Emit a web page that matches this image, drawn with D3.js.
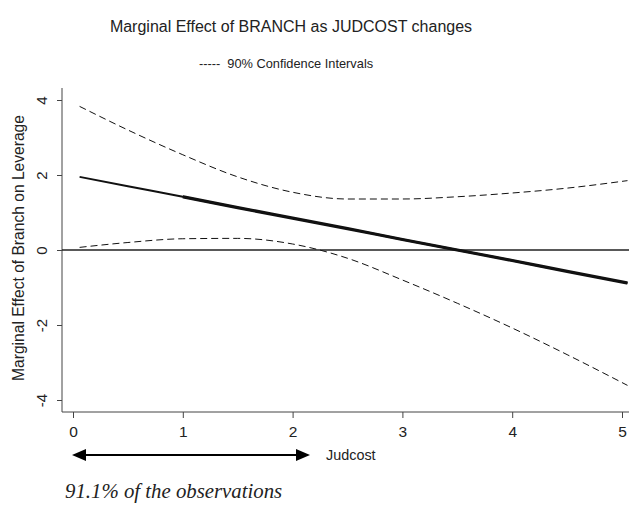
<!DOCTYPE html>
<html>
<head>
<meta charset="utf-8">
<script src="https://cdn.jsdelivr.net/npm/d3@7"></script>
<style>
  body { margin: 0; background: #fff; }
  svg { display: block; font-family: "Liberation Sans", Arial, sans-serif; }
  text { fill: #222; }
</style>
</head>
<body>
<svg id="chart"></svg>
<script>
// values
const judcost = [0.06, 0.5, 1.0, 1.5, 2.0, 2.5, 3.0, 3.5, 4.0, 4.5, 5.05];
const marginalEffect = [1.95, 1.70, 1.42, 1.13, 0.85, 0.57, 0.28, 0.00, -0.28, -0.57, -0.88];
const upperCI = [3.83, 3.20, 2.54, 1.95, 1.54, 1.36, 1.36, 1.42, 1.52, 1.65, 1.85];
const lowerCI = [0.07, 0.20, 0.30, 0.31, 0.16, -0.22, -0.80, -1.42, -2.08, -2.79, -3.61];
const xTicks = [0, 1, 2, 3, 4, 5];
const yTicks = [-4, -2, 0, 2, 4];

const width = 629, height = 510;
const svg = d3.select('#chart').attr('width', width).attr('height', height);

const x = d3.scaleLinear().domain([0, 5]).range([73, 622]);
const y = d3.scaleLinear().domain([-4, 4]).range([400, 100]);

const axisLeft = 62, axisBottom = 412;
const sans = '"Liberation Sans", Arial, sans-serif';
// plain hyphen for negatives, like the original
const fmt = d => String(d);

// title + legend
svg.append('text')
  .attr('x', 291).attr('y', 32)
  .attr('text-anchor', 'middle')
  .attr('font-size', '16px')
  .text('Marginal Effect of BRANCH as JUDCOST changes');

svg.append('text')
  .attr('x', 286).attr('y', 68)
  .attr('text-anchor', 'middle')
  .attr('font-size', '12.8px')
  .attr('xml:space', 'preserve')
  .text('-----  90% Confidence Intervals');

// axes
const yAxis = svg.append('g')
  .attr('transform', `translate(${axisLeft},0)`)
  .call(d3.axisLeft(y).tickValues(yTicks).tickSize(5).tickSizeOuter(0).tickFormat(fmt));
yAxis.select('.domain').attr('d', `M0,88V${axisBottom}`);
yAxis.selectAll('text')
  .attr('transform', 'rotate(-90)')
  .attr('x', 0).attr('y', -20)
  .attr('dy', '0.35em')
  .attr('text-anchor', 'middle')
  .attr('font-size', '15px')
  .attr('font-family', sans)
  .attr('fill', '#222');

const xAxis = svg.append('g')
  .attr('transform', `translate(0,${axisBottom})`)
  .call(d3.axisBottom(x).tickValues(xTicks).tickSize(6).tickSizeOuter(0).tickFormat(fmt));
xAxis.select('.domain').attr('d', `M${axisLeft},0H${width}`);
xAxis.selectAll('text')
  .attr('y', 14)
  .attr('font-size', '15.5px')
  .attr('font-family', sans)
  .attr('fill', '#222');

svg.selectAll('.domain, .tick line').attr('stroke', '#444').attr('stroke-width', 1);

svg.append('text')
  .attr('transform', `translate(19,${y(0) - 2}) rotate(-90)`)
  .attr('text-anchor', 'middle')
  .attr('dy', '0.35em')
  .attr('font-size', '15.6px')
  .text('Marginal Effect of Branch on Leverage');

// zero line
svg.append('line')
  .attr('x1', axisLeft).attr('x2', width)
  .attr('y1', y(0)).attr('y2', y(0))
  .attr('stroke', '#222').attr('stroke-width', 1.5);

const rows = judcost.map((d, i) => ({ x: d, me: marginalEffect[i], hi: upperCI[i], lo: lowerCI[i] }));

const line = key => d3.line()
  .x(d => x(d.x))
  .y(d => y(d[key]))
  .curve(d3.curveMonotoneX);

['hi', 'lo'].forEach(k => {
  svg.append('path')
    .datum(rows)
    .attr('d', line(k))
    .attr('fill', 'none')
    .attr('stroke', '#111')
    .attr('stroke-width', 1)
    .attr('stroke-dasharray', '7,4');
});

// marginal effect, thicker over the later part as in the original
svg.append('path')
  .datum(rows)
  .attr('d', line('me'))
  .attr('fill', 'none')
  .attr('stroke', '#111')
  .attr('stroke-width', 2);
svg.append('path')
  .datum(rows.filter(d => d.x >= 1.0))
  .attr('d', line('me'))
  .attr('fill', 'none')
  .attr('stroke', '#111')
  .attr('stroke-width', 3.2);

// double-headed arrow under the axis
const arrowY = 455;
svg.append('line')
  .attr('x1', 80).attr('x2', 300)
  .attr('y1', arrowY).attr('y2', arrowY)
  .attr('stroke', '#000').attr('stroke-width', 2);
svg.append('path')
  .attr('d', `M72,${arrowY}L86,${arrowY - 6}L86,${arrowY + 6}Z`)
  .attr('fill', '#000');
svg.append('path')
  .attr('d', `M310,${arrowY}L296,${arrowY - 6}L296,${arrowY + 6}Z`)
  .attr('fill', '#000');

svg.append('text')
  .attr('x', 326).attr('y', arrowY + 5)
  .attr('font-size', '14.4px')
  .text('Judcost');

svg.append('text')
  .attr('x', 65).attr('y', 498)
  .style('font-family', '"Liberation Serif", "Times New Roman", serif')
  .style('font-style', 'italic')
  .attr('font-size', '20.8px')
  .text('91.1% of the observations');
</script>
</body>
</html>
